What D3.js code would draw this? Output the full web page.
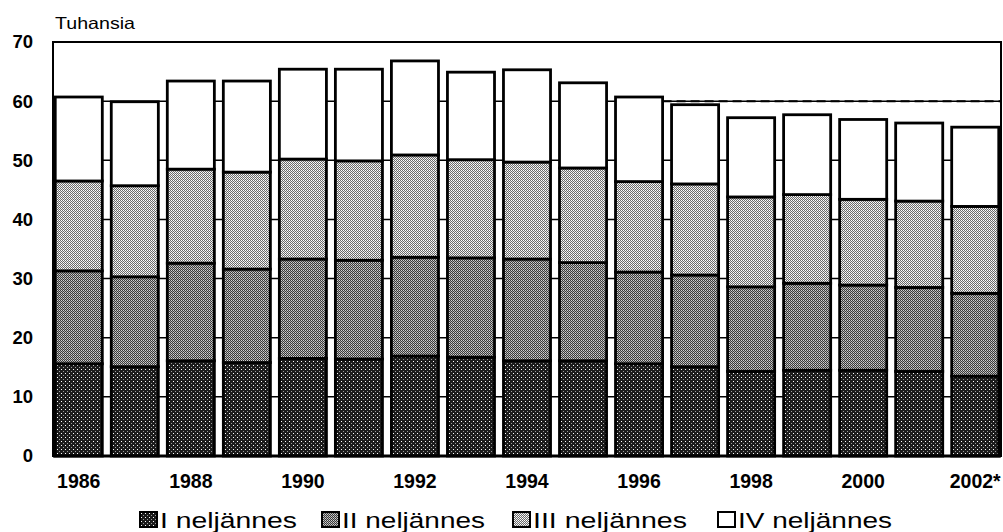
<!DOCTYPE html>
<html><head><meta charset="utf-8">
<script src="https://cdn.jsdelivr.net/npm/d3@7/dist/d3.min.js"></script>
<style>body{margin:0;background:#fff;}svg{display:block;font-family:"Liberation Sans",Arial,sans-serif;}</style>
</head><body>
<svg id="c" width="1003" height="532"></svg>
<script>
const years = ["1986","1987","1988","1989","1990","1991","1992","1993","1994","1995","1996","1997","1998","1999","2000","2001","2002*"];
const tickYears = ["1986","1988","1990","1992","1994","1996","1998","2000","2002*"];
const q1 = [15.6,15.1,16.1,15.8,16.5,16.4,16.9,16.7,16.1,16.1,15.6,15.1,14.3,14.5,14.5,14.3,13.5];
const q2 = [15.7,15.2,16.5,15.8,16.8,16.7,16.7,16.8,17.2,16.6,15.5,15.5,14.3,14.7,14.4,14.2,14.0];
const q3 = [15.2,15.4,15.9,16.4,16.9,16.8,17.3,16.6,16.4,16.0,15.3,15.4,15.2,15.0,14.5,14.6,14.7];
const q4 = [14.2,14.2,14.9,15.4,15.2,15.5,15.9,14.8,15.6,14.4,14.3,13.4,13.4,13.5,13.5,13.2,13.4];
const seriesNames = ["I neljännes","II neljännes","III neljännes","IV neljännes"];
const yTicks = [0,10,20,30,40,50,60,70];
const refValue = 60;
const refStartYear = "1997";

const svg = d3.select("#c");
const L = 53, R = 1001, T = 42, B = 456;
const x = d3.scaleBand().domain(years).range([L, R]).paddingInner(0.16).paddingOuter(0.04);
const y = d3.scaleLinear().domain([0, 70]).range([B, T]);

// patterns (halftone-like)
const defs = svg.append("defs");
function pat(id, size, bg, dots) {
  const p = defs.append("pattern").attr("id", id).attr("patternUnits", "userSpaceOnUse")
    .attr("width", size).attr("height", size);
  p.append("rect").attr("width", size).attr("height", size).attr("fill", bg);
  dots.forEach(d => p.append("rect").attr("x", d[0]).attr("y", d[1]).attr("width", 1).attr("height", 1).attr("fill", d[2]));
}
pat("p1", 4, "#1c1c1c", [[1,1,"#ffffff"],[3,3,"#9a9a9a"]]);
pat("p2", 2, "#3a3a3a", [[1,0,"#d0d0d0"],[0,1,"#a8a8a8"]]);
pat("p3", 2, "#6a6a6a", [[1,0,"#ffffff"],[0,1,"#e4e4e4"]]);
const fills = ["url(#p1)","url(#p2)","url(#p3)","#ffffff"];

// gridlines behind bars
svg.append("g").selectAll("line").data(yTicks.filter(t => t > 0 && t < 70)).join("line")
  .attr("x1", L).attr("x2", R).attr("y1", d => y(d)).attr("y2", d => y(d))
  .attr("stroke", "#000").attr("stroke-width", 1.5);

// stacked bars
const rows = years.map((yr, i) => ({year: yr, q1: q1[i], q2: q2[i], q3: q3[i], q4: q4[i]}));
const stack = d3.stack().keys(["q1","q2","q3","q4"])(rows);
svg.append("g").selectAll("g").data(stack).join("g")
  .attr("fill", (d, i) => fills[i])
  .selectAll("rect").data(d => d).join("rect")
  .attr("x", d => x(d.data.year))
  .attr("width", x.bandwidth())
  .attr("y", d => y(d[1]))
  .attr("height", d => y(d[0]) - y(d[1]))
  .attr("stroke", "#000").attr("stroke-width", 2.8);

// dashed reference line
svg.append("line")
  .attr("x1", x(refStartYear) - (x.step() - x.bandwidth())).attr("x2", R)
  .attr("y1", y(refValue)).attr("y2", y(refValue))
  .attr("stroke", "#000").attr("stroke-width", 2).attr("stroke-dasharray", "9,5");

// frame
svg.append("rect").attr("x", L).attr("y", T).attr("width", R - L).attr("height", B - T)
  .attr("fill", "none").attr("stroke", "#000").attr("stroke-width", 2);
svg.append("line").attr("x1", L).attr("x2", R).attr("y1", B).attr("y2", B).attr("stroke", "#000").attr("stroke-width", 3);

// y axis labels
const yAxis = d3.axisLeft(y).tickValues(yTicks).tickSize(0).tickPadding(20);
const gy = svg.append("g").attr("transform", `translate(${L},0)`).call(yAxis);
gy.select(".domain").remove();
gy.selectAll("text").attr("font-size", 18.5).attr("font-weight", "bold").attr("fill", "#000")
  .attr("font-family", "Liberation Sans, Arial, sans-serif");

// x axis labels
const xAxis = d3.axisBottom(x).tickValues(tickYears).tickSize(0).tickPadding(18);
const gx = svg.append("g").attr("transform", `translate(0,${B})`).call(xAxis);
gx.select(".domain").remove();
gx.selectAll("text").attr("font-size", 19.5).attr("font-weight", "bold").attr("fill", "#000")
  .attr("font-family", "Liberation Sans, Arial, sans-serif");

// unit label
svg.append("text").attr("x", 55).attr("y", 29).attr("font-size", 16.5).text("Tuhansia")
  .attr("textLength", 80).attr("lengthAdjust", "spacingAndGlyphs");

// legend
const legX = [140, 322, 513, 718];
const legW = [137, 143, 154, 154];
const lg = svg.append("g").selectAll("g").data(seriesNames).join("g")
  .attr("transform", (d, i) => `translate(${legX[i]},512)`);
lg.append("rect").attr("width", 17).attr("height", 15).attr("fill", (d, i) => fills[i])
  .attr("stroke", "#000").attr("stroke-width", 2);
lg.append("text").attr("x", 20).attr("y", 16).attr("font-size", 22.5).text(d => d)
  .attr("textLength", (d, i) => legW[i]).attr("lengthAdjust", "spacingAndGlyphs");
</script>
</body></html>
